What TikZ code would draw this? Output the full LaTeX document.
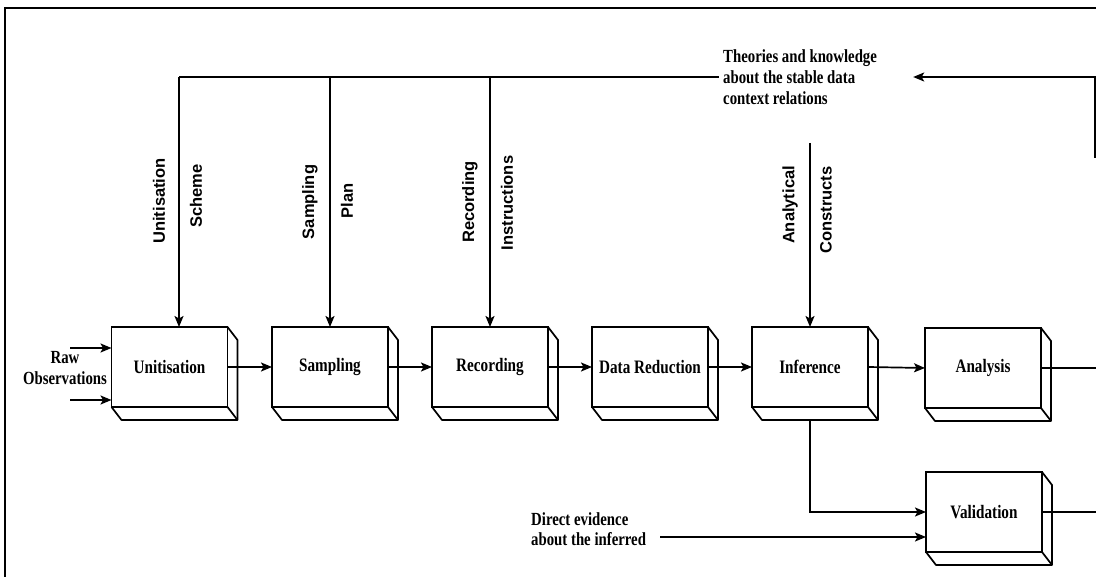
\documentclass[tikz,border=0pt]{standalone}
\usepackage{fontspec}
\setmainfont{Liberation Serif}[FakeStretch=0.8]
\newfontfamily\labelsans{Liberation Sans}
\usetikzlibrary{arrows.meta,calc}

\tikzset{
  link/.style={line width=1.7pt},
  flow/.style={link, -{Stealth[length=11pt,width=9pt,inset=2.5pt]}},
  stage/.style={draw, line width=1.7pt, fill=white, minimum width=116pt,
    minimum height=80pt, inner sep=0pt, outer sep=0pt,
    font=\fontsize{19}{22}\selectfont\bfseries},
  vlabel/.style={rotate=90, inner sep=0pt,
    font=\labelsans\fontsize{16.5}{20}\selectfont\bfseries},
  note/.style={inner sep=0pt, font=\fontsize{18.5}{21}\selectfont\bfseries},
}

% side and bottom faces that give a stage box its depth
\newcommand\depthfaces[1]{%
  \draw[link, line join=round] (#1.north east) -- ++(10,13)
    -- ($(#1.south east)+(10,13)$) -- ($(#1.south west)+(10,13)$) -- (#1.south west);
  \draw[link] (#1.south east) -- ++(10,13);}

\begin{document}
\begin{tikzpicture}[x=1pt, y=-1pt]
\useasboundingbox (0,0) rectangle (1096,577);

% outer frame
\draw[link] (5,577) -- (5,8) -- (1096,8);

% stages
\node[stage] (u)   at (169.5,367) {Unitisation};
\node[stage] (s)   at (330,367)   {Sampling};
\node[stage] (r)   at (490,367)   {Recording};
\node[stage] (d)   at (650,367)   {Data Reduction};
\node[stage] (inf) at (810,367)   {Inference};
\node[stage] (an)  at (983,368)   {Analysis};
\node[stage] (val) at (984,512)   {Validation};
\foreach \b in {u,s,r,d,inf,an,val} {\depthfaces{\b}}

% texts
\node[note, align=left, anchor=west] (theory) at (723,77)
  {Theories and knowledge\\about the stable data\\context relations};
\node[note, align=center] (raw) at (65,368.5) {Raw\\Observations};
\node[note, align=left, anchor=west, font=\fontsize{18.5}{20}\selectfont\bfseries]
  (dev) at (531,529.5) {Direct evidence\\about the inferred};

\node[vlabel] (l1a) at (159,201) {Unitisation};
\node[vlabel] (l1b) at (196,196) {Scheme};
\node[vlabel] (l2a) at (310,202) {Sampling};
\node[vlabel] (l2b) at (347,201) {Plan};
\node[vlabel] (l3a) at (470,202) {Recording};
\node[vlabel] (l3b) at (507,203) {Instructions};
\node[vlabel] (l4a) at (790,205) {Analytical};
\node[vlabel] (l4b) at (826,210) {Constructs};

% junctions of the feedback lines
\coordinate (jU) at (179,77);
\coordinate (jS) at (330,77);
\coordinate (jR) at (490,77);
\coordinate (jA) at (810,143);
\coordinate (fbR) at (1095,158);
\coordinate (edge) at (1096,0);
\coordinate (r1) at (70,348);
\coordinate (r2) at (70,400);
\coordinate (ev) at (660,537);

% knowledge feeding the stages
\draw[link, shorten >=4pt] (jU) -- (theory.west);
\draw[flow] (jU) -- (jU |- u.north);
\draw[flow] (jS) -- (jS |- s.north);
\draw[flow] (jR) -- (jR |- r.north);
\draw[flow] (jA) -- (jA |- inf.north);
\draw[flow, shorten >=36pt] (fbR) |- (theory.east);

% raw observations
\draw[flow] (r1) -- (r1 -| u.west);
\draw[flow] (r2) -- (r2 -| u.west);

% main sequence
\draw[flow] (u.east) -- (s.west);
\draw[flow] (s.east) -- (r.west);
\draw[flow] (r.east) -- (d.west);
\draw[flow] (d.east) -- (inf.west);
\draw[flow] (inf.east) -- (an.west);
\draw[link] (an.east) -- (an.east -| edge);

% validation
\draw[flow] ([yshift=-13pt]inf.south) |- (val.west);
\draw[flow] (ev) -- (ev -| val.west);
\draw[link] (val.east) -- (val.east -| edge);
\end{tikzpicture}
\end{document}
